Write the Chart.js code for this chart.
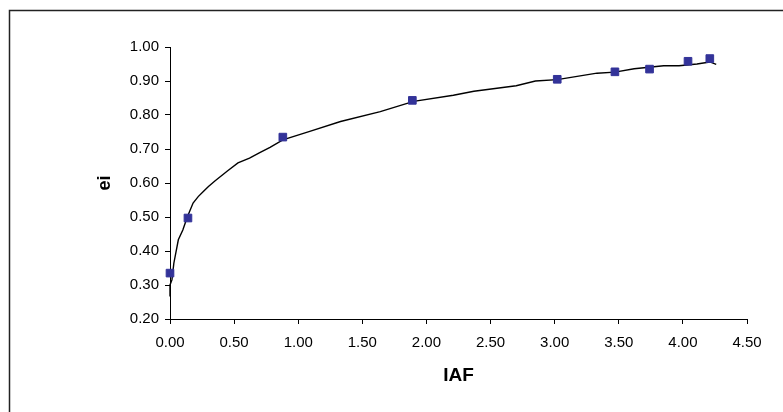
<!DOCTYPE html>
<html>
<head>
<meta charset="utf-8">
<script src="https://cdn.jsdelivr.net/npm/chart.js@4"></script>
<style>
  html, body { margin: 0; padding: 0; background: #fff; }
  #wrap { width: 783px; height: 412px; position: relative; }
</style>
</head>
<body>
<div id="wrap"><canvas id="chart" width="783" height="412"></canvas></div>
<script>
// measured points (blue squares)
const obsIAF = [0.00, 0.14, 0.88, 1.89, 3.02, 3.47, 3.74, 4.04, 4.21];
const obsEi = [0.335, 0.497, 0.735, 0.843, 0.905, 0.927, 0.935, 0.958, 0.966];

// simulated curve (black line)
const fitIAF = [0.00, 0.00, 0.015, 0.03, 0.065, 0.10, 0.135, 0.18, 0.22, 0.26, 0.30, 0.35, 0.45,
  0.53, 0.62, 0.70, 0.78, 0.88, 1.09, 1.33, 1.64, 1.90, 2.21, 2.37, 2.70, 2.85, 3.02, 3.33, 3.47,
  3.62, 3.85, 3.97, 4.11, 4.21, 4.26];
const fitEi = [0.266, 0.30, 0.315, 0.364, 0.433, 0.462, 0.50, 0.541, 0.560, 0.575, 0.590, 0.606, 0.636,
  0.659, 0.673, 0.689, 0.705, 0.727, 0.752, 0.781, 0.810, 0.840, 0.858, 0.870, 0.886, 0.900, 0.904, 0.923, 0.926,
  0.936, 0.945, 0.945, 0.950, 0.956, 0.949];

// axis settings
const xTicks = { min: 0, max: 4.5, step: 0.5 };
const yTicks = { min: 0.2, max: 1.0, step: 0.1 };

const toXY = (xs, ys) => xs.map((x, i) => ({ x, y: ys[i] }));

// frame around the whole figure, like the exported Excel chart
const framePlugin = {
  id: "frame",
  afterDraw(chart) {
    const ctx = chart.ctx;
    ctx.save();
    ctx.strokeStyle = "#222";
    ctx.lineWidth = 1.5;
    ctx.strokeRect(9.5, 10.5, 900, 900);
    ctx.restore();
  },
};

const tickFont = { family: "Liberation Sans, Arial, sans-serif", size: 15 };
const titleFont = { family: "Liberation Sans, Arial, sans-serif", weight: "bold" };

new Chart(document.getElementById("chart"), {
  type: "scatter",
  data: {
    datasets: [
      {
        label: "observed",
        data: toXY(obsIAF, obsEi),
        pointStyle: "rect",
        pointRadius: 5.4,
        pointBackgroundColor: "#333399",
        pointBorderColor: "#333399",
        pointBorderWidth: 1,
        showLine: false,
        clip: false,
        order: 0,
      },
      {
        label: "simulated",
        data: toXY(fitIAF, fitEi),
        showLine: true,
        borderColor: "#000",
        borderWidth: 1.4,
        pointRadius: 0,
        tension: 0,
        clip: false,
        order: 1,
      },
    ],
  },
  options: {
    responsive: false,
    animation: false,
    layout: { padding: { left: 0, top: 47, right: 36, bottom: 0 } },
    plugins: {
      legend: { display: false },
      tooltip: { enabled: false },
    },
    scales: {
      x: {
        type: "linear",
        min: xTicks.min,
        max: xTicks.max,
        afterFit: (s) => { s.height = 93; },
        afterBuildTicks: (s) => {
          const t = [];
          for (let v = xTicks.min; v <= xTicks.max + 1e-9; v += xTicks.step) t.push({ value: +v.toFixed(2) });
          s.ticks = t;
        },
        ticks: {
          color: "#000",
          font: tickFont,
          padding: 10,
          maxRotation: 0,
          callback: (v) => Number(v).toFixed(2),
        },
        grid: { drawOnChartArea: false, drawTicks: true, tickLength: 5, color: "#000" },
        border: { display: true, color: "#000", width: 1 },
        title: { display: true, text: "IAF", color: "#000", font: { ...titleFont, size: 19 }, padding: { top: 0, bottom: 25 } },
      },
      y: {
        type: "linear",
        min: yTicks.min,
        max: yTicks.max,
        afterFit: (s) => { s.width = 170; },
        afterBuildTicks: (s) => {
          const t = [];
          for (let v = yTicks.min; v <= yTicks.max + 1e-9; v += yTicks.step) t.push({ value: +v.toFixed(2) });
          s.ticks = t;
        },
        ticks: {
          color: "#000",
          font: tickFont,
          padding: 6,
          callback: (v) => Number(v).toFixed(2),
        },
        grid: { drawOnChartArea: false, drawTicks: true, tickLength: 5, color: "#000" },
        border: { display: true, color: "#000", width: 1 },
        title: { display: true, text: "ei", color: "#000", font: { ...titleFont, size: 18 }, padding: { top: 94, bottom: 0 } },
      },
    },
  },
  plugins: [framePlugin],
});
</script>
</body>
</html>
